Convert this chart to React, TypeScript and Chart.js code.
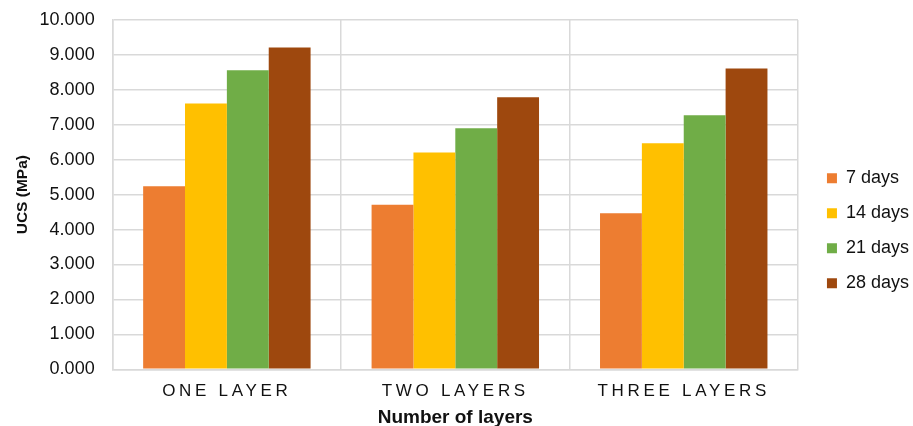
import React, { useEffect, useRef } from "react";
import { Chart, registerables } from "chart.js";

Chart.register(...registerables);

const categories = ["ONE LAYER", "TWO LAYERS", "THREE LAYERS"];
const seriesNames = ["7 days", "14 days", "21 days", "28 days"];
const days7 = [5.24, 4.71, 4.47];
const days14 = [7.61, 6.21, 6.47];
const days21 = [8.56, 6.9, 7.27];
const days28 = [9.21, 7.79, 8.61];
const colors = ["#ED7D31", "#FFC000", "#70AD47", "#9E480E"];

const FONT = "Liberation Sans, Arial, sans-serif";

const letterSpacingPlugin = {
  id: "xLetterSpacing",
  afterDatasetsDraw(chart: any) {
    (chart.ctx as any).letterSpacing = "3.7px";
  },
  afterDraw(chart: any) {
    (chart.ctx as any).letterSpacing = "0px";
  },
};

export default function App() {
  const ref = useRef<HTMLCanvasElement>(null);
  useEffect(() => {
    document.body.style.margin = "0";
    const values = [days7, days14, days21, days28];
    const chart = new Chart(ref.current!, {
      type: "bar",
      data: {
        labels: categories,
        datasets: seriesNames.map((n, i) => ({
          label: n,
          data: values[i],
          backgroundColor: colors[i],
          borderWidth: 0,
          categoryPercentage: 0.733,
          barPercentage: 1,
        })),
      },
      options: {
        animation: false,
        responsive: false,
        maintainAspectRatio: false,
        layout: { padding: { top: 20, right: -6, left: 13, bottom: -3.5 } },
        plugins: {
          tooltip: { enabled: false },
          legend: {
            position: "right",
            align: "center",
            title: {
              display: true,
              text: " ",
              padding: 0,
              font: { family: FONT, size: 10 },
            },
            labels: {
              boxWidth: 10,
              boxHeight: 10,
              padding: 17,
              color: "#111",
              font: { family: FONT, size: 18 },
            },
          },
        },
        scales: {
          x: {
            grid: { color: "#d9d9d9", lineWidth: 1.5, drawTicks: false, offset: true },
            border: { color: "#d9d9d9", width: 1.5 },
            ticks: {
              z: 1,
              color: "#111",
              padding: 12,
              font: { family: FONT, size: 17 },
            },
            title: {
              display: true,
              text: "Number of layers",
              color: "#111",
              padding: { top: -7, bottom: 0 },
              font: { family: FONT, size: 19, weight: "bold" },
            },
          },
          y: {
            min: 0,
            max: 10,
            grid: {
              color: "#d9d9d9",
              lineWidth: 1.5,
              drawTicks: true,
              tickLength: 18,
              tickColor: "rgba(0,0,0,0)",
            },
            border: { color: "#d9d9d9", width: 1.5 },
            ticks: {
              stepSize: 1,
              padding: 0,
              color: "#111",
              font: { family: FONT, size: 18 },
              callback: (v: any) => Number(v).toFixed(3),
            },
            title: {
              display: true,
              text: "UCS (MPa)",
              color: "#111",
              padding: { top: 0, bottom: 8 },
              font: { family: FONT, size: 15.5, weight: "bold" },
            },
          },
          gap: {
            type: "linear",
            position: "right",
            display: true,
            grid: { display: false, drawTicks: false },
            border: { display: false },
            ticks: { display: false },
            afterFit: (s: any) => {
              s.width = 12;
            },
          },
        },
      },
      plugins: [letterSpacingPlugin],
    });
    return () => chart.destroy();
  }, []);
  return (
    <div style={{ width: 913, height: 426, background: "#fff", overflow: "hidden" }}>
      <canvas ref={ref} width={913} height={426} style={{ display: "block" }} />
    </div>
  );
}
